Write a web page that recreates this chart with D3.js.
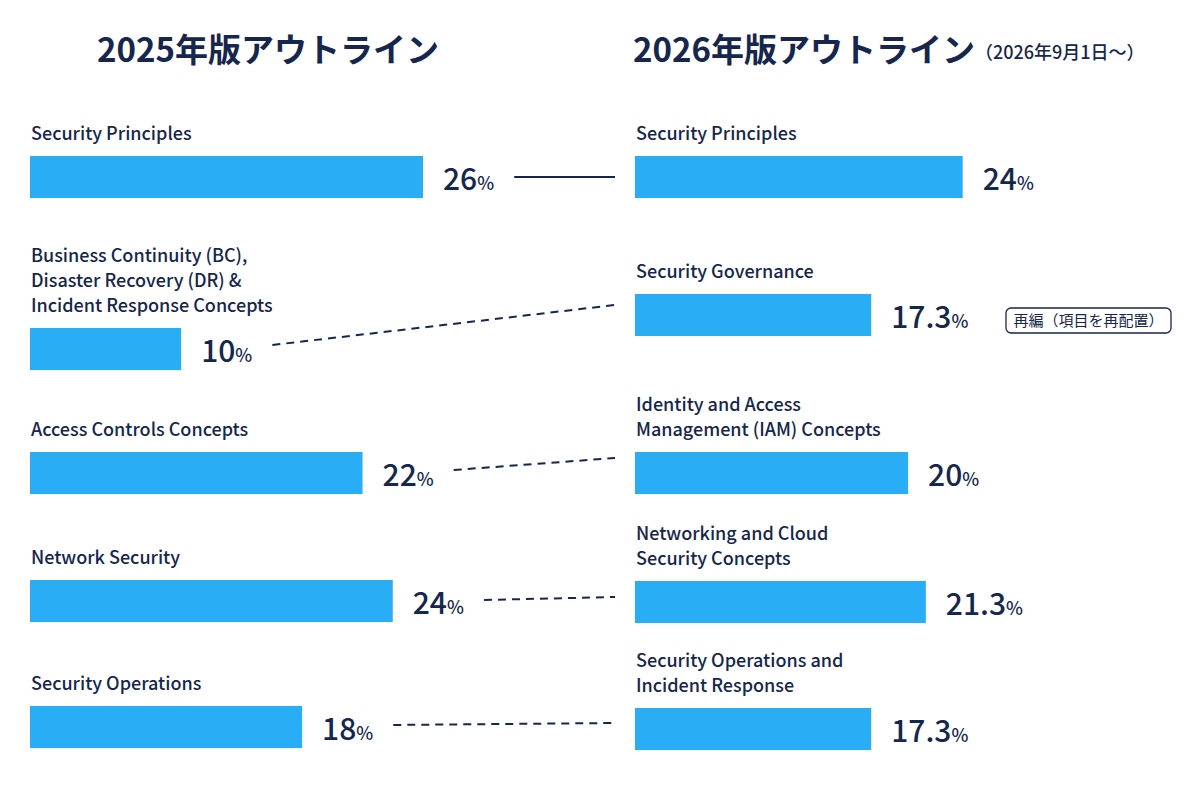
<!DOCTYPE html>
<html><head><meta charset="utf-8">
<script src="https://cdn.jsdelivr.net/npm/d3@7"></script>
<style>body{margin:0;background:#fff}</style></head>
<body><svg id="c" width="1200" height="800"></svg>
<script>
const leftTitle = "2025年版アウトライン";
const rightTitle = "2026年版アウトライン";
const rightSub = "（2026年9月1日〜）";
const leftLabels = [["Security Principles"],["Business Continuity (BC),","Disaster Recovery (DR) &","Incident Response Concepts"],["Access Controls Concepts"],["Network Security"],["Security Operations"]];
const leftValues = [26,10,22,24,18];
const rightLabels = [["Security Principles"],["Security Governance"],["Identity and Access","Management (IAM) Concepts"],["Networking and Cloud","Security Concepts"],["Security Operations and","Incident Response"]];
const rightValues = [24,17.3,20,21.3,17.3];
const links = [[0,0],[1,1],[2,2],[3,3],[4,4]];
const badge = "再編（項目を再配置）";

const svg = d3.select("#c");
const navy = "#16264d", blue = "#29adf5";
const font = "'Noto Sans CJK JP','Noto Sans',sans-serif";
const xL = d3.scaleLinear().domain([0,26]).range([0,393]);
const xR = d3.scaleLinear().domain([0,26]).range([0,355]);
const leftY = [177,349,473,601,727], rightY = [177,315,473,602,729];
const barH = 42;

svg.append("text").attr("x",97).attr("y",62).attr("font-family",font).attr("font-weight",700).attr("font-size",33).attr("fill",navy).text(leftTitle);
const rt = svg.append("text").attr("x",633).attr("y",62).attr("font-family",font).attr("font-weight",700).attr("font-size",33).attr("fill",navy).text(rightTitle);
rt.append("tspan").attr("font-size",18).attr("font-weight",500).attr("dy",-3).text(rightSub);

function side(labels, values, ys, x0, x){
  const ends=[];
  values.forEach((v,i)=>{
    const y = ys[i];
    const w = x(v);
    svg.append("rect").attr("x",x0).attr("y",y-barH/2).attr("width",w).attr("height",barH).attr("fill",blue);
    const t = svg.append("text").attr("x",x0+w+20).attr("y",y+13).attr("font-family",font).attr("font-weight",500).attr("font-size",30).attr("fill",navy).text(v);
    t.append("tspan").attr("font-size",18).text("%");
    const bb = t.node().getBBox();
    ends.push(bb.x+bb.width);
    const lines = labels[i];
    const base = y - barH/2 - 16 - (lines.length-1)*25;
    lines.forEach((l,j)=>svg.append("text").attr("x",x0+1).attr("y",base+j*25).attr("font-family",font).attr("font-weight",500).attr("font-size",18).attr("fill",navy).text(l));
  });
  return ends;
}
const lEnds = side(leftLabels,leftValues,leftY,30,xL);
side(rightLabels,rightValues,rightY,635,xR);

const dy=[0,-4,-3,-1,-2];
const endY=[177,305,458,597,723];
links.forEach(([a,b],i)=>{
  svg.append("line").attr("x1",lEnds[a]+20).attr("y1",leftY[a]+dy[i]).attr("x2",615).attr("y2",endY[b])
    .attr("stroke",navy).attr("stroke-width",2).attr("stroke-dasharray",i===0?null:"8,6");
});

svg.append("rect").attr("x",1006).attr("y",308).attr("width",165).attr("height",25).attr("rx",5).attr("fill","#fff").attr("stroke",navy).attr("stroke-width",1.3);
svg.append("text").attr("x",1088.5).attr("y",326).attr("text-anchor","middle").attr("font-family",font).attr("font-size",15).attr("fill",navy).text(badge);
</script></body></html>
